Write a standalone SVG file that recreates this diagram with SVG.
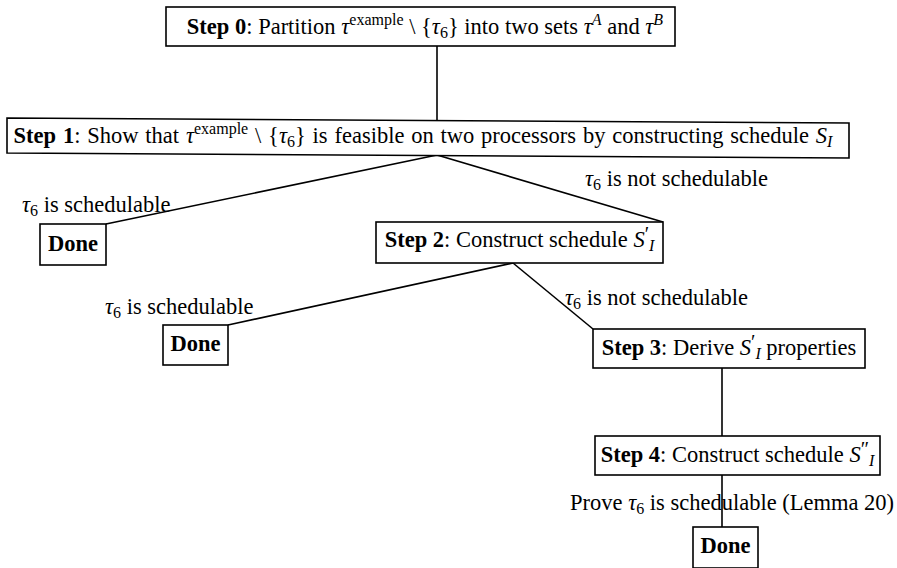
<svg xmlns="http://www.w3.org/2000/svg" width="897" height="568" viewBox="0 0 897 568">
<style>
text{font-family:"Liberation Serif","Times New Roman",serif;font-size:22.5px;fill:#000}
.m{text-anchor:middle}
.b{font-weight:bold}
.i{font-style:italic}
.s{font-size:16px}
.p{font-size:20px}
.box{fill:#fff;stroke:#000;stroke-width:1.6}
.ln{stroke:#000;stroke-width:1.6;fill:none}
</style>
<rect width="897" height="568" fill="#fff"/>
<g id="connectors">
<line class="ln" x1="437" y1="46" x2="437" y2="121"/>
<line class="ln" x1="437" y1="155" x2="106" y2="224"/>
<line class="ln" x1="437" y1="155" x2="663" y2="222"/>
<line class="ln" x1="513" y1="263" x2="228" y2="325"/>
<line class="ln" x1="513" y1="263" x2="593" y2="329"/>
<line class="ln" x1="722" y1="368" x2="722" y2="436"/>
<line class="ln" x1="722" y1="475" x2="722" y2="527"/>
</g>
<g id="labels">
<text x="22" y="212"><tspan class="i">τ</tspan><tspan class="s" dy="4">6</tspan><tspan dy="-4"> is schedulable</tspan></text>
<text x="585" y="186"><tspan class="i">τ</tspan><tspan class="s" dy="4">6</tspan><tspan dy="-4"> is not schedulable</tspan></text>
<text x="105" y="314"><tspan class="i">τ</tspan><tspan class="s" dy="4">6</tspan><tspan dy="-4"> is schedulable</tspan></text>
<text x="565" y="305"><tspan class="i">τ</tspan><tspan class="s" dy="4">6</tspan><tspan dy="-4"> is not schedulable</tspan></text>
<text x="570" y="510">Prove <tspan class="i">τ</tspan><tspan class="s" dy="4">6</tspan><tspan dy="-4"> is schedulable (Lemma 20)</tspan></text>
</g>
<g id="step0">
<rect class="box" x="166" y="7" width="509" height="39"/>
<text class="m" x="425" y="34"><tspan class="b">Step 0</tspan>: Partition <tspan class="i">τ</tspan><tspan class="s" dy="-9">example</tspan><tspan dy="9"> \ {</tspan><tspan class="i">τ</tspan><tspan class="s" dy="4">6</tspan><tspan dy="-4">} into two sets </tspan><tspan class="i">τ</tspan><tspan class="s i" dy="-9">A</tspan><tspan dy="9"> and </tspan><tspan class="i">τ</tspan><tspan class="s i" dy="-9">B</tspan></text>
</g>
<g id="step1">
<polygon class="box" points="7,118 849,123 849,158 7,153"/>
<text class="m" x="423" y="143" style="word-spacing:1.2px"><tspan class="b">Step 1</tspan>: Show that <tspan class="i">τ</tspan><tspan class="s" dy="-9">example</tspan><tspan dy="9"> \ {</tspan><tspan class="i">τ</tspan><tspan class="s" dy="4">6</tspan><tspan dy="-4">} is feasible on two processors by constructing schedule </tspan><tspan class="i">S</tspan><tspan class="s i" dy="4">I</tspan></text>
</g>
<g id="done1">
<rect class="box" x="40" y="224" width="66" height="41"/>
<text class="m b" x="73" y="251">Done</text>
</g>
<g id="step2">
<rect class="box" x="376" y="222" width="287" height="41"/>
<text class="m" x="519.5" y="247"><tspan class="b">Step 2</tspan>: Construct schedule <tspan class="i">S</tspan><tspan class="p" dy="-6">′</tspan><tspan class="s i" dy="10">I</tspan></text>
</g>
<g id="done2">
<rect class="box" x="163" y="325" width="65" height="40"/>
<text class="m b" x="195.5" y="351">Done</text>
</g>
<g id="step3">
<rect class="box" x="593" y="329" width="272" height="39"/>
<text class="m" x="729" y="355"><tspan class="b">Step 3</tspan>: Derive <tspan class="i">S</tspan><tspan class="p" dy="-6">′</tspan><tspan class="s i" dy="10">I</tspan><tspan dy="-4"> properties</tspan></text>
</g>
<g id="step4">
<rect class="box" x="595" y="436" width="285" height="39"/>
<text class="m" x="737.5" y="462"><tspan class="b">Step 4</tspan>: Construct schedule <tspan class="i">S</tspan><tspan class="p" dy="-6">″</tspan><tspan class="s i" dy="10">I</tspan></text>
</g>
<g id="done3">
<rect class="box" x="693" y="527" width="65" height="41"/>
<text class="m b" x="725.5" y="553">Done</text>
</g>
</svg>
